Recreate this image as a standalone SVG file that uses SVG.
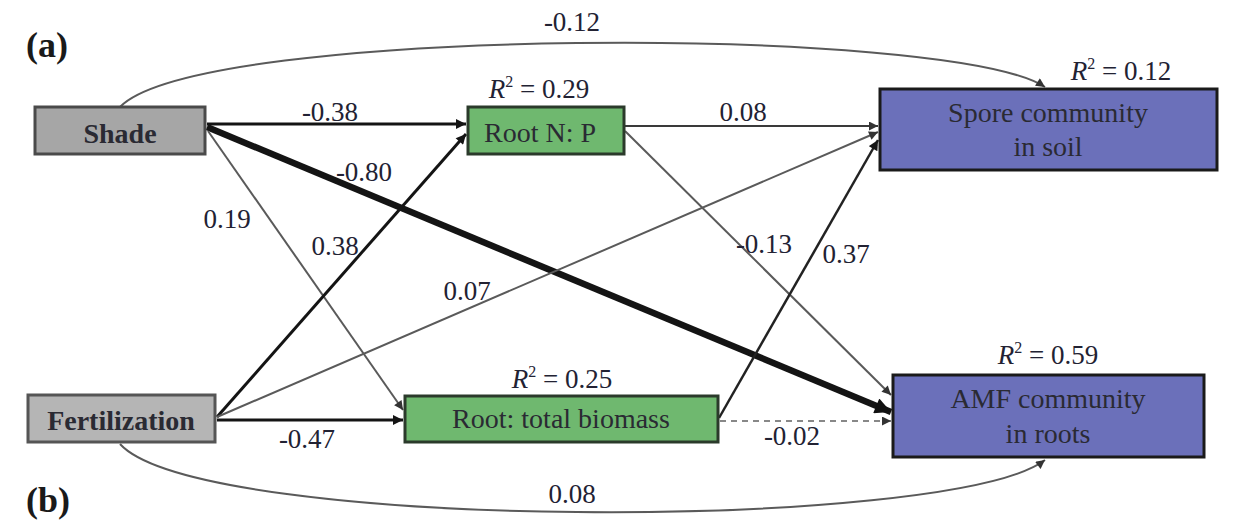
<svg xmlns="http://www.w3.org/2000/svg" width="1255" height="527" viewBox="0 0 1255 527" font-family="Liberation Serif">
<defs>
<style>
.num{font-size:27px;fill:#222233;text-anchor:middle}
.box{font-size:28px;fill:#2a2a33;text-anchor:middle}
.bold{font-size:28px;font-weight:bold;fill:#2a2a33;text-anchor:middle}
.panel{font-size:36px;font-weight:bold;fill:#1a1a1a}
.c{fill:none}
.blk{stroke:#141414}
.gry{stroke:#5a5a5a}
</style>
<marker id="ah" viewBox="0 0 10 10" refX="10" refY="5" markerWidth="12" markerHeight="10" markerUnits="userSpaceOnUse" orient="auto"><path d="M0,0 L10,5 L0,10 z" fill="#141414"/></marker>
<marker id="ahg" viewBox="0 0 10 10" refX="10" refY="5" markerWidth="11" markerHeight="9" markerUnits="userSpaceOnUse" orient="auto"><path d="M0,0 L10,5 L0,10 z" fill="#333"/></marker>
<marker id="ahb" viewBox="0 0 10 10" refX="10" refY="5" markerWidth="20" markerHeight="16" markerUnits="userSpaceOnUse" orient="auto"><path d="M0,0 L10,5 L0,10 z" fill="#111"/></marker>
</defs>
<rect width="1255" height="527" fill="#fff"/>

<g id="connectors">
<path class="c gry" stroke-width="2" d="M120,107 C200,25 950,25 1045,87" marker-end="url(#ahg)"/>
<path class="c gry" stroke-width="2" d="M120,444 C200,532 950,532 1045,460" marker-end="url(#ahg)"/>
<line class="blk" stroke-width="3" x1="207" y1="124" x2="466" y2="124" marker-end="url(#ah)"/>
<line class="blk" stroke-width="6.5" x1="207" y1="127" x2="891" y2="412" marker-end="url(#ahb)"/>
<line class="gry" stroke-width="2" x1="208" y1="131" x2="403" y2="410" marker-end="url(#ahg)"/>
<line class="blk" stroke-width="3" x1="217" y1="417" x2="466" y2="134" marker-end="url(#ah)"/>
<line class="gry" stroke-width="2" x1="217" y1="417" x2="878" y2="132" marker-end="url(#ahg)"/>
<line class="blk" stroke-width="3" x1="217" y1="420" x2="403" y2="420" marker-end="url(#ah)"/>
<line stroke="#3a3a3a" stroke-width="2" x1="625" y1="126" x2="878" y2="126" marker-end="url(#ahg)"/>
<line class="gry" stroke-width="2" x1="625" y1="131" x2="891" y2="395" marker-end="url(#ahg)"/>
<line stroke="#222" stroke-width="2.5" x1="719" y1="418" x2="878" y2="140" marker-end="url(#ah)"/>
<line stroke="#888" stroke-width="2" stroke-dasharray="6,5" x1="720" y1="421" x2="891" y2="421" marker-end="url(#ahg)"/>
</g>

<g id="shade">
<rect x="35" y="107" width="170" height="47" fill="#a6a6a6" stroke="#4a4a4a" stroke-width="3"/>
<text class="bold" x="120" y="143">Shade</text>
</g>
<g id="fertilization">
<rect x="28" y="395" width="187" height="47" fill="#b5b5b5" stroke="#555" stroke-width="3"/>
<text class="bold" x="121" y="430">Fertilization</text>
</g>
<g id="rootnp">
<rect x="468" y="107" width="156" height="47" fill="#6fb86f" stroke="#2b3a2b" stroke-width="3"/>
<text class="box" x="540" y="142">Root N: P</text>
<text class="num" x="539" y="98"><tspan font-style="italic">R</tspan><tspan font-size="16" dy="-11">2</tspan><tspan dy="11"> = 0.29</tspan></text>
</g>
<g id="rootbiomass">
<rect x="405" y="396" width="313" height="46" fill="#6fb86f" stroke="#2b3a2b" stroke-width="3"/>
<text class="box" x="561" y="428">Root: total biomass</text>
<text class="num" x="562" y="388"><tspan font-style="italic">R</tspan><tspan font-size="16" dy="-11">2</tspan><tspan dy="11"> = 0.25</tspan></text>
</g>
<g id="spore">
<rect x="880" y="89" width="337" height="81" fill="#6b70ba" stroke="#1a1a1a" stroke-width="3"/>
<text class="box" x="1048" y="122">Spore community</text>
<text class="box" x="1048" y="156">in soil</text>
<text class="num" x="1121" y="80"><tspan font-style="italic">R</tspan><tspan font-size="16" dy="-11">2</tspan><tspan dy="11"> = 0.12</tspan></text>
</g>
<g id="amf">
<rect x="893" y="375" width="311" height="82" fill="#6b70ba" stroke="#1a1a1a" stroke-width="3"/>
<text class="box" x="1048" y="408">AMF community</text>
<text class="box" x="1048" y="443">in roots</text>
<text class="num" x="1048" y="364"><tspan font-style="italic">R</tspan><tspan font-size="16" dy="-11">2</tspan><tspan dy="11"> = 0.59</tspan></text>
</g>

<g id="labels">
<text class="panel" x="26" y="57">(a)</text>
<text class="panel" x="26" y="512">(b)</text>
<text class="num" x="572" y="31">-0.12</text>
<text class="num" x="330" y="121">-0.38</text>
<text class="num" x="743" y="121">0.08</text>
<text class="num" x="364" y="181">-0.80</text>
<text class="num" x="227" y="228">0.19</text>
<text class="num" x="335" y="255">0.38</text>
<text class="num" x="764" y="253">-0.13</text>
<text class="num" x="846" y="263">0.37</text>
<text class="num" x="467" y="300">0.07</text>
<text class="num" x="307" y="448">-0.47</text>
<text class="num" x="792" y="445">-0.02</text>
<text class="num" x="572" y="503">0.08</text>
</g>
</svg>
